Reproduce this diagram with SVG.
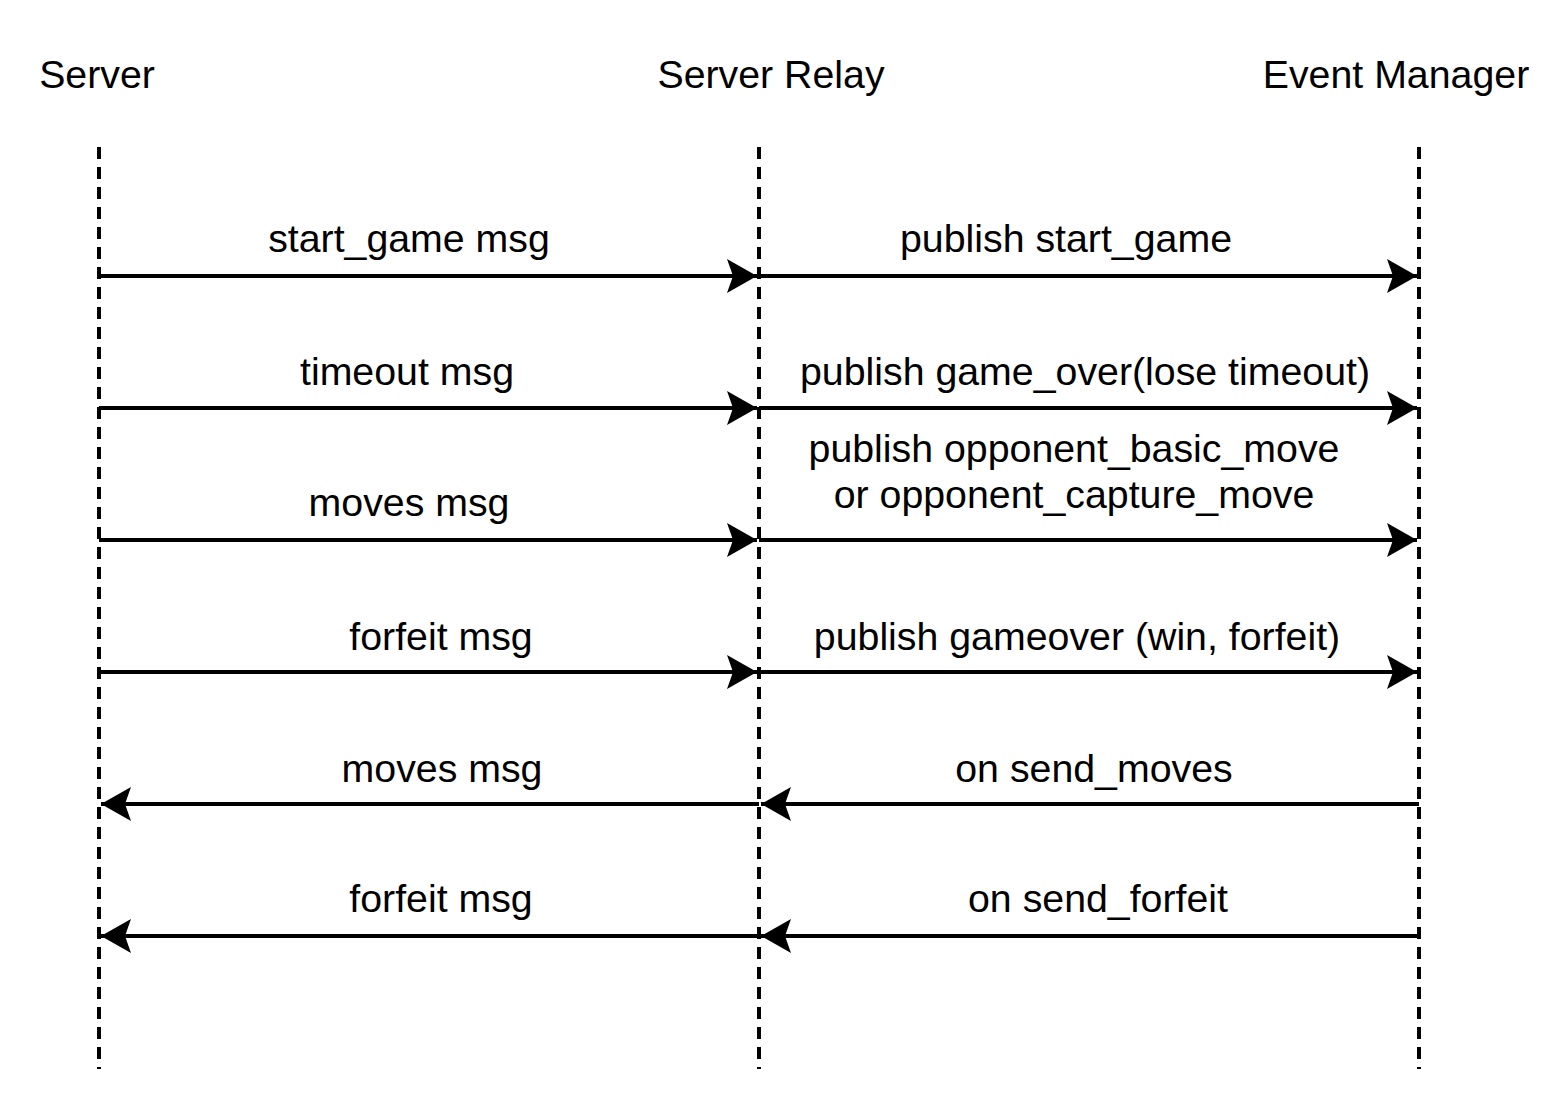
<svg xmlns="http://www.w3.org/2000/svg" width="1566" height="1116" viewBox="0 0 1566 1116">
<defs>
<marker id="arr" markerUnits="userSpaceOnUse" markerWidth="34" markerHeight="36" viewBox="0 0 34 36" refX="31" refY="18" orient="auto">
<path d="M1,1 L31,18 L1,35 L7,18 Z" fill="#000"/>
</marker>
<style>
.t{font-family:"Liberation Sans",Arial,Helvetica,sans-serif;font-size:39.3px;fill:#000;text-anchor:middle}
.life{stroke:#000;stroke-width:4;stroke-dasharray:12 8;fill:none}
.msg{stroke:#000;stroke-width:4;fill:none;marker-end:url(#arr)}
</style>
</defs>
<rect width="1566" height="1116" fill="#fff"/>
<g id="server">
<text class="t" x="97" y="88">Server</text>
<line class="life" x1="99" y1="147" x2="99" y2="1069"/>
</g>
<g id="server-relay">
<text class="t" x="771" y="88">Server Relay</text>
<line class="life" x1="759" y1="147" x2="759" y2="1069"/>
</g>
<g id="event-manager">
<text class="t" x="1396" y="88">Event Manager</text>
<line class="life" x1="1419" y1="147" x2="1419" y2="1069"/>
</g>
<g id="connectors">
<line class="msg" x1="99" y1="276" x2="757" y2="276"/>
<line class="msg" x1="759" y1="276" x2="1417" y2="276"/>
<line class="msg" x1="99" y1="408" x2="757" y2="408"/>
<line class="msg" x1="759" y1="408" x2="1417" y2="408"/>
<line class="msg" x1="99" y1="540" x2="757" y2="540"/>
<line class="msg" x1="759" y1="540" x2="1417" y2="540"/>
<line class="msg" x1="99" y1="672" x2="757" y2="672"/>
<line class="msg" x1="759" y1="672" x2="1417" y2="672"/>
<line class="msg" x1="759" y1="804" x2="101" y2="804"/>
<line class="msg" x1="1419" y1="804" x2="761" y2="804"/>
<line class="msg" x1="759" y1="936" x2="101" y2="936"/>
<line class="msg" x1="1419" y1="936" x2="761" y2="936"/>
</g>
<g id="labels">
<text class="t" x="409" y="252">start_game msg</text>
<text class="t" x="1066" y="252">publish start_game</text>
<text class="t" x="407" y="385">timeout msg</text>
<text class="t" x="1085" y="385">publish game_over(lose timeout)</text>
<text class="t" x="1074" y="462">publish opponent_basic_move</text>
<text class="t" x="1074" y="508">or opponent_capture_move</text>
<text class="t" x="409" y="516">moves msg</text>
<text class="t" x="441" y="650">forfeit msg</text>
<text class="t" x="1077" y="650">publish gameover (win, forfeit)</text>
<text class="t" x="442" y="782">moves msg</text>
<text class="t" x="1094" y="782">on send_moves</text>
<text class="t" x="441" y="912">forfeit msg</text>
<text class="t" x="1098" y="912">on send_forfeit</text>
</g>
</svg>
